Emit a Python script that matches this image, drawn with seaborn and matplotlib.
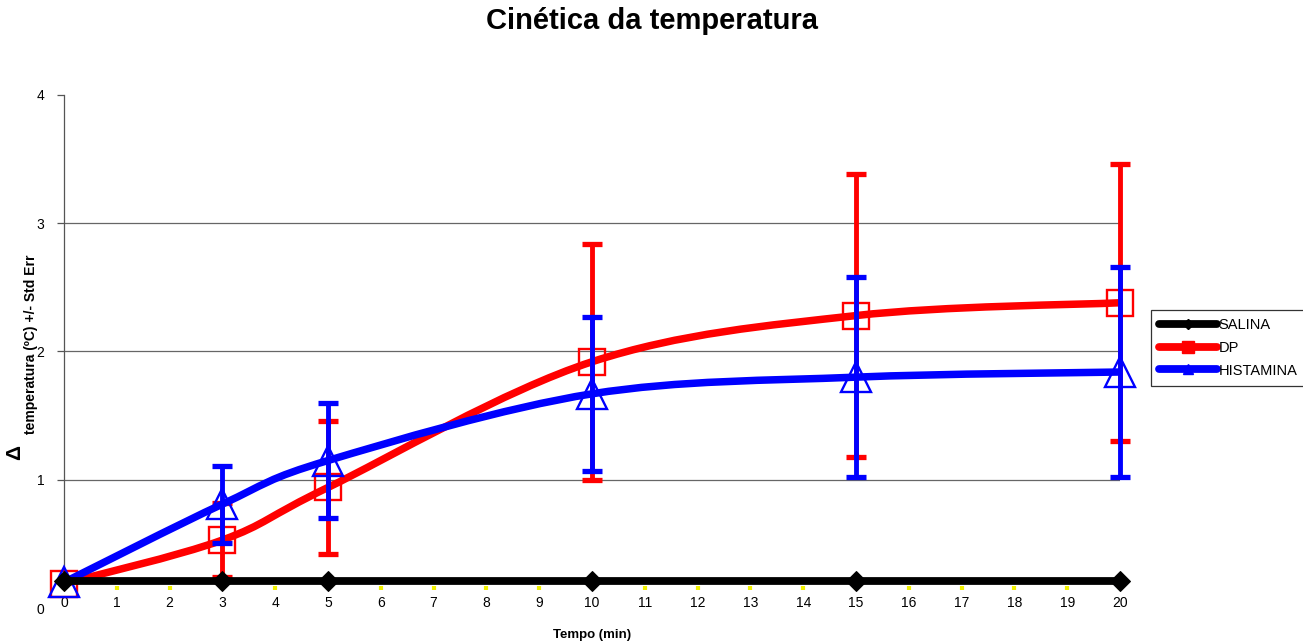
import numpy as np
import matplotlib
matplotlib.use("Agg")
import matplotlib.pyplot as plt
from matplotlib.path import Path
from matplotlib.patches import PathPatch
from matplotlib.lines import Line2D
import seaborn as sns

# dados
tempo = [0, 3, 5, 10, 15, 20]
salina = [0.21, 0.21, 0.21, 0.21, 0.21, 0.21]
dp = [0.19, 0.53, 0.94, 1.92, 2.28, 2.38]
dp_err = [0.0, 0.29, 0.52, 0.92, 1.10, 1.08]
histamina = [0.20, 0.81, 1.15, 1.67, 1.80, 1.84]
hist_err = [0.0, 0.30, 0.45, 0.60, 0.78, 0.82]
x_ticks = list(range(0, 21))
y_ticks = [0, 1, 2, 3, 4]
series_names = ["SALINA", "DP", "HISTAMINA"]

sns.set_theme(style="white")
plt.rcParams["font.family"] = ["Liberation Sans", "DejaVu Sans"]
plt.rcParams["text.color"] = "black"


def smooth_path(x, y):
    # curva suavizada tipo Excel (Bezier a partir dos pontos)
    pts = np.column_stack([x, y]).astype(float)
    ext = np.vstack([pts[0], pts, pts[-1]])
    verts = [pts[0]]
    codes = [Path.MOVETO]
    for i in range(len(pts) - 1):
        p0, p1, p2, p3 = ext[i], ext[i + 1], ext[i + 2], ext[i + 3]
        verts += [p1 + (p2 - p0) / 6, p2 - (p3 - p1) / 6, p2]
        codes += [Path.CURVE4] * 3
    return Path(verts, codes)


fig = plt.figure(figsize=(13.03, 6.43), dpi=100)
ax = fig.add_axes([0.0491, 0.0544, 0.8105, 0.7979])
ax.set_xlim(0, 20)
ax.set_ylim(0, 4)

# linhas de grade
for g in y_ticks[1:-1]:
    ax.axhline(g, color="#666666", lw=0.9, zorder=1)

# DP
ax.add_patch(PathPatch(smooth_path(tempo, dp), fill=False, edgecolor="red", lw=5.4,
                       capstyle="round", joinstyle="round", zorder=3))
m = np.array(dp_err) > 0
ax.errorbar(np.array(tempo)[m], np.array(dp)[m], yerr=np.array(dp_err)[m], fmt="none",
            ecolor="red", elinewidth=3.5, capsize=7, capthick=3.8, zorder=4, clip_on=False)
sns.lineplot(x=tempo, y=dp, ax=ax, marker="s", markersize=19, markerfacecolor="none",
             markeredgecolor="red", markeredgewidth=1.7, linewidth=0, color="red",
             errorbar=None, zorder=5, clip_on=False)

# HISTAMINA
ax.add_patch(PathPatch(smooth_path(tempo, histamina), fill=False, edgecolor="blue", lw=5.4,
                       capstyle="round", joinstyle="round", zorder=6))
m = np.array(hist_err) > 0
ax.errorbar(np.array(tempo)[m], np.array(histamina)[m], yerr=np.array(hist_err)[m], fmt="none",
            ecolor="blue", elinewidth=3.5, capsize=7, capthick=3.8, zorder=7, clip_on=False)
sns.lineplot(x=tempo, y=histamina, ax=ax, marker="^", markersize=21, markerfacecolor="none",
             markeredgecolor="blue", markeredgewidth=1.7, linewidth=0, color="blue",
             errorbar=None, zorder=8, clip_on=False)

# SALINA
sns.lineplot(x=tempo, y=salina, ax=ax, marker="D", markersize=10, color="black",
             markeredgecolor="black", linewidth=5.6, errorbar=None, zorder=9,
             clip_on=False, solid_capstyle="round")

# eixos
for s in ["top", "right"]:
    ax.spines[s].set_visible(False)
ax.spines["bottom"].set_position(("data", 0.155))
ax.spines["bottom"].set_visible(False)
ax.spines["left"].set_color("#555555")
ax.spines["left"].set_linewidth(0.9)
ax.spines["left"].set_bounds(0.155, 4)
ax.set_xticks(x_ticks)
ax.set_yticks(y_ticks)
ax.tick_params(axis="x", direction="inout", length=3, width=3, color="#f0f000",
               labelsize=10, pad=4, labelcolor="black", bottom=True)
ax.tick_params(axis="y", direction="out", length=5, width=0.9, color="#555555",
               labelsize=10, pad=9, labelcolor="black", left=True)
ax.yaxis.get_major_ticks()[0].tick1line.set_visible(False)
ax.set_xlabel("Tempo (min)", fontsize=9.5, fontweight="bold", labelpad=14, color="black")
ax.set_ylabel("")

fig.text(15 / 1303, 1 - 452 / 643, "Δ", rotation=90, fontsize=15, fontweight="bold",
         ha="center", va="center")
fig.text(31 / 1303, 1 - 344 / 643, "temperatura (ºC) +/- Std Err", rotation=90,
         fontsize=10, fontweight="bold", ha="center", va="center")

fig.suptitle("Cinética da temperatura", fontsize=21, fontweight="bold",
             x=0.5, y=1 - 21 / 643, va="center", color="black")

handles = [
    Line2D([], [], color="black", lw=5.6, marker="D", markersize=5),
    Line2D([], [], color="red", lw=5.6, marker="s", markersize=9),
    Line2D([], [], color="blue", lw=5.6, marker="^", markersize=7),
]
leg = fig.legend(handles, series_names, loc="upper left",
                 bbox_to_anchor=(1151 / 1303, 1 - 310 / 643), fontsize=10.5,
                 frameon=True, fancybox=False, handlelength=4, handletextpad=0.1,
                 borderpad=0.55, labelspacing=0.6, borderaxespad=0)
leg.get_frame().set_edgecolor("black")
leg.get_frame().set_linewidth(0.9)
for t in leg.get_texts():
    t.set_color("black")

fig.savefig("out.png", dpi=100)
